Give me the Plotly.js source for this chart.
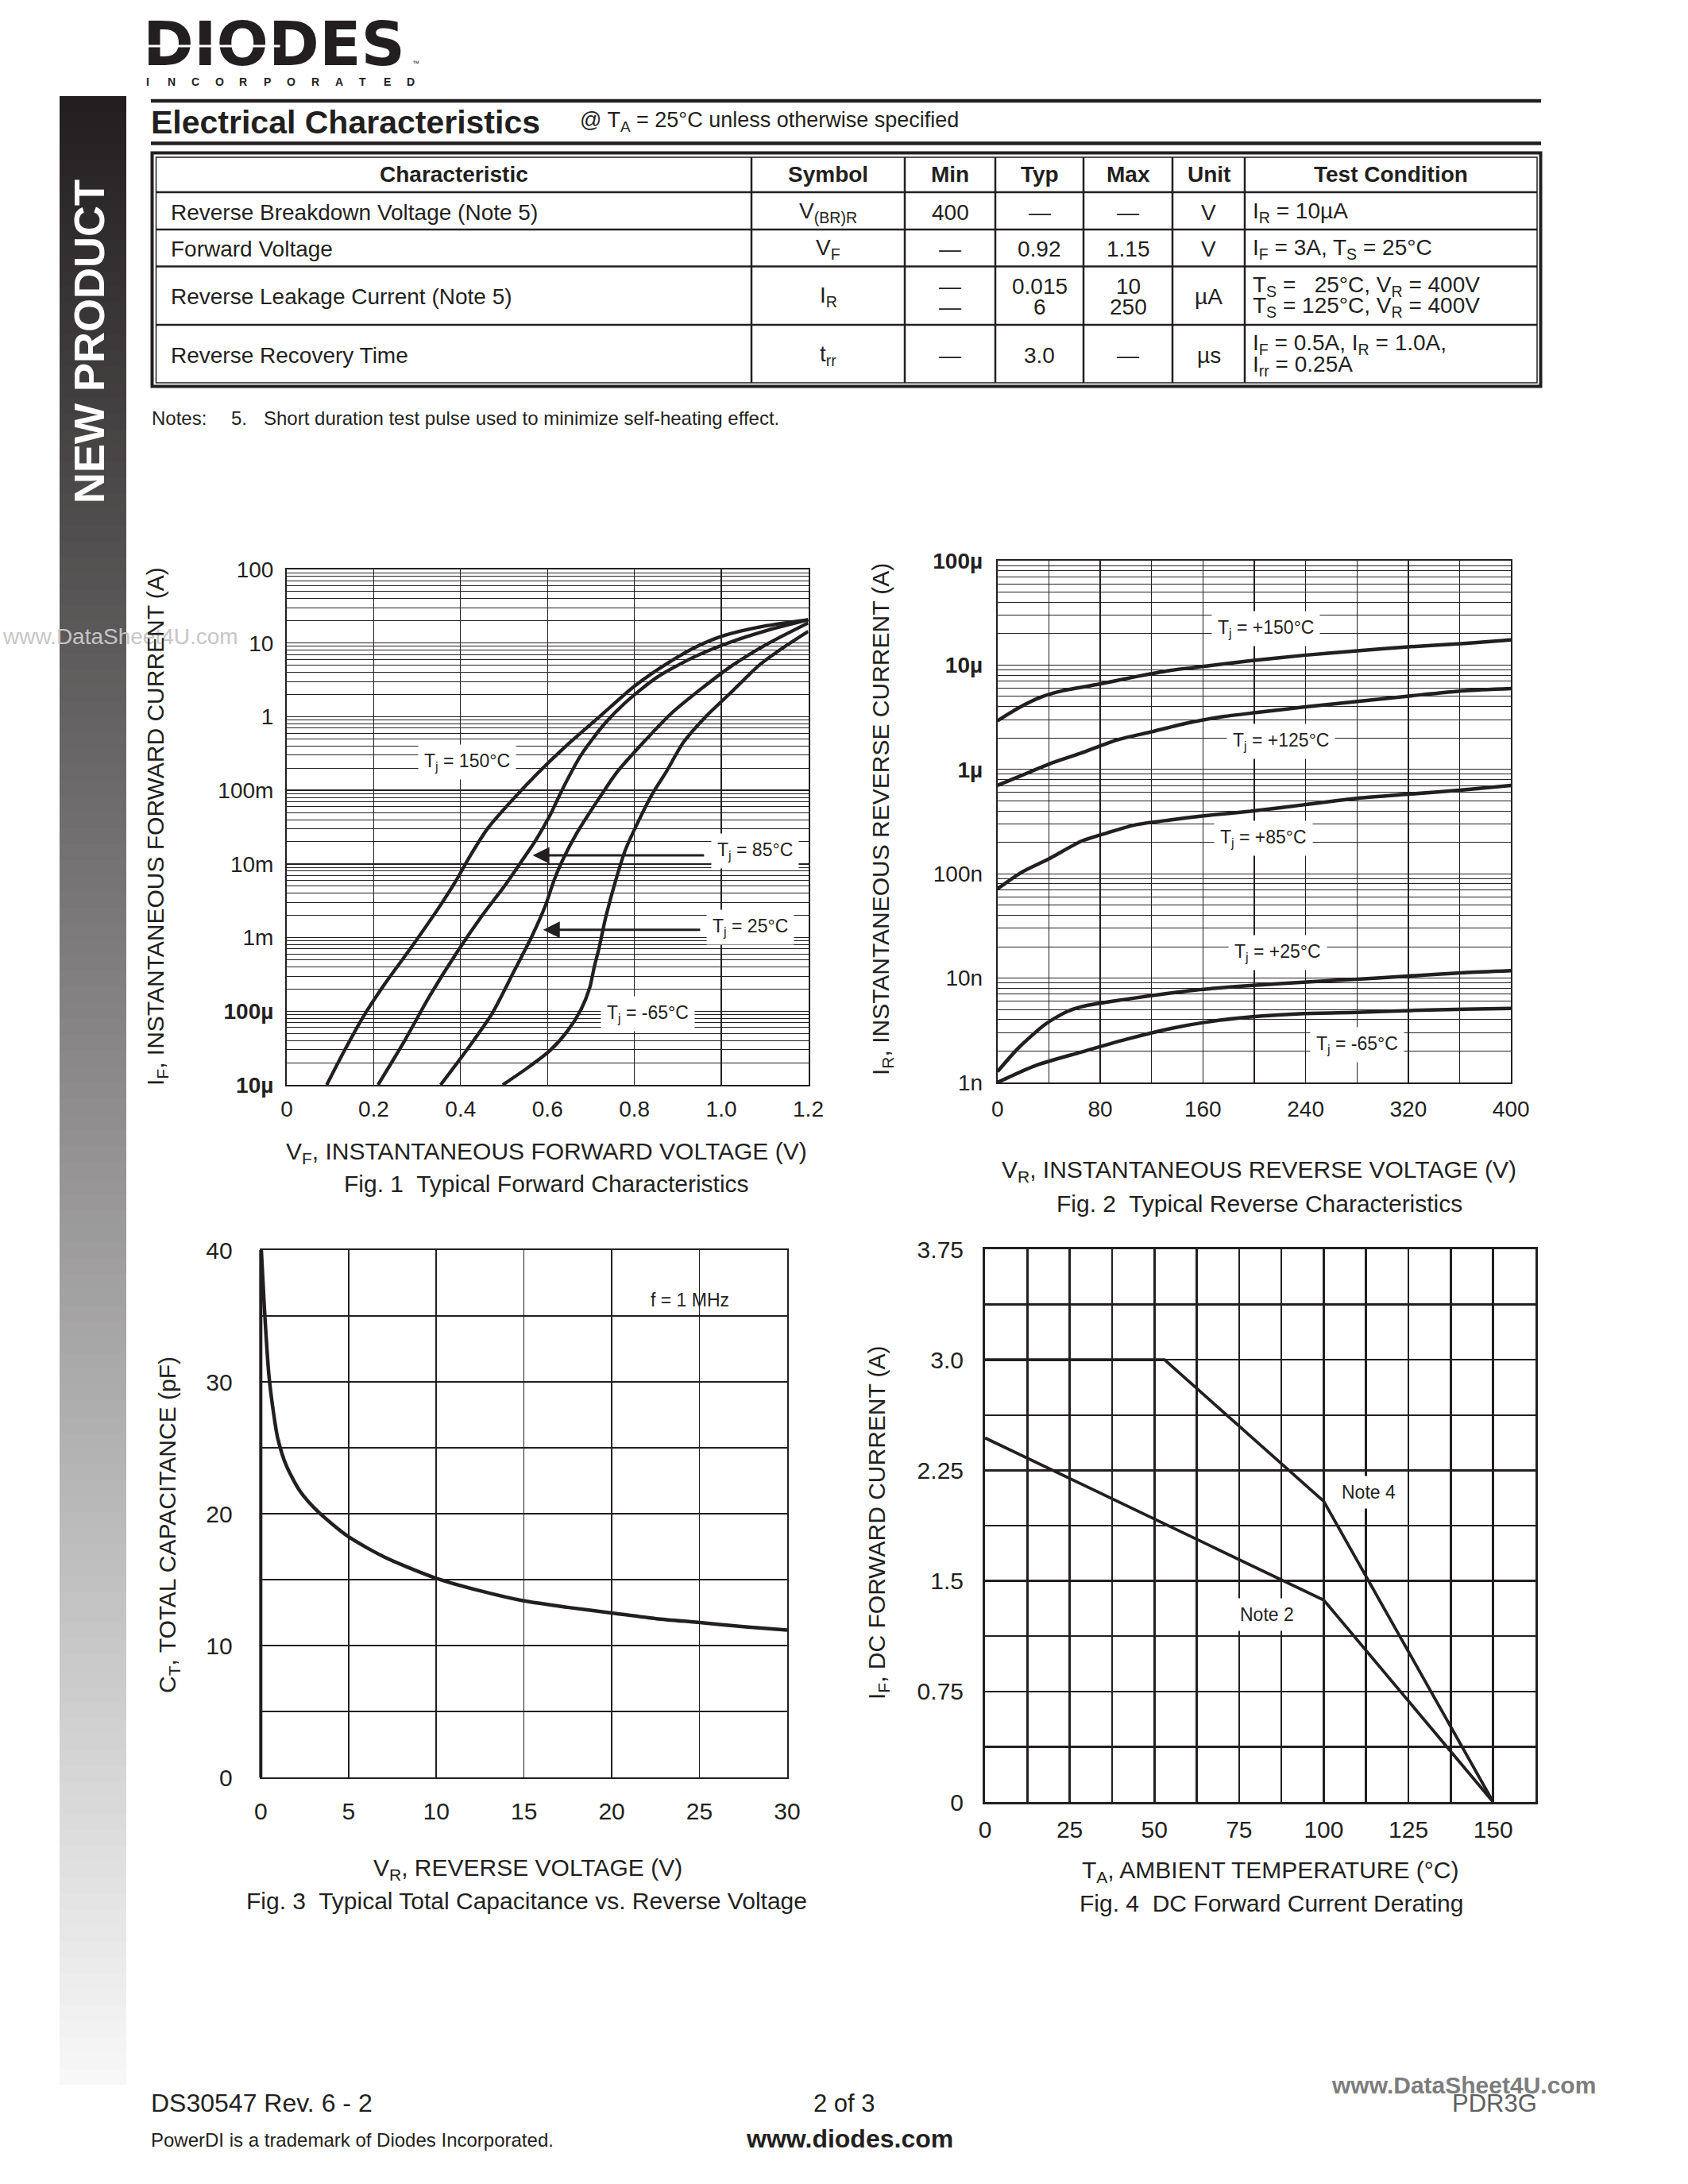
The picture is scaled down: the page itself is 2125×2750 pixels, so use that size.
<!DOCTYPE html>
<html>
<head>
<meta charset="utf-8">
<script src="https://cdn.plot.ly/plotly-3.0.1.min.js"></script>
<style>
html,body{margin:0;padding:0;background:#ffffff;}
#page{width:2125px;height:2750px;}
</style>
</head>
<body>
<div id="page"></div>
<script>
// ================= DATA =================
// Electrical characteristics table
const tableHeaders = ['Characteristic','Symbol','Min','Typ','Max','Unit','Test Condition'];
const characteristics = ['Reverse Breakdown Voltage (Note 5)','Forward Voltage','Reverse Leakage Current (Note 5)','Reverse Recovery Time'];
const symbols = ['V<sub>(BR)R</sub>','V<sub>F</sub>','I<sub>R</sub>','t<sub>rr</sub>'];
const minValues = ['400','—',['—','—'],'—'];
const typValues = ['—','0.92',['0.015','6'],'3.0'];
const maxValues = ['—','1.15',['10','250'],'—'];
const units = ['V','V','µA','µs'];
const testConditions = [
  'I<sub>R</sub> = 10µA',
  'I<sub>F</sub> = 3A, T<sub>S</sub> = 25°C',
  ['T<sub>S</sub> =   25°C, V<sub>R</sub> = 400V','T<sub>S</sub> = 125°C, V<sub>R</sub> = 400V'],
  ['I<sub>F</sub> = 0.5A, I<sub>R</sub> = 1.0A,','I<sub>rr</sub> = 0.25A']
];

// Fig. 1 Typical Forward Characteristics (VF in V, IF in A)
const fig1Vf150 = [0.092,0.133,0.174,0.226,0.287,0.349,0.390,0.421,0.462,0.513,0.574,0.646,0.718,0.800,0.882,0.944,1.005,1.087,1.200];
const fig1If150 = [1e-5,2.94e-5,8.05e-5,2.37e-4,7.43e-4,2.50e-3,6.0e-3,0.0126,0.0302,0.0676,0.163,0.417,0.98,2.6,5.6,9.0,12.6,16.5,20.7];
const fig1Vf85 = [0.210,0.267,0.328,0.390,0.451,0.503,0.544,0.574,0.605,0.636,0.677,0.728,0.779,0.851,0.933,1.015,1.108,1.200];
const fig1If85 = [1e-5,3.6e-5,1.58e-4,6.1e-4,2.04e-3,5.2e-3,0.0117,0.0215,0.045,0.108,0.30,0.76,1.55,3.4,6.3,10.0,15.0,20.7];
const fig1Vf25 = [0.354,0.410,0.472,0.523,0.564,0.595,0.615,0.636,0.667,0.718,0.759,0.821,0.882,0.954,1.026,1.108,1.200];
const fig1If25 = [1e-5,2.75e-5,9.2e-5,3.5e-4,1.04e-3,2.7e-3,6.0e-3,0.0117,0.026,0.077,0.174,0.45,1.07,2.4,5.0,9.9,18.8];
const fig1VfM65 = [0.497,0.554,0.605,0.646,0.677,0.697,0.708,0.718,0.733,0.754,0.779,0.810,0.841,0.872,0.913,0.964,1.026,1.087,1.149,1.200];
const fig1IfM65 = [1e-5,1.7e-5,2.9e-5,5.4e-5,1.05e-4,2.07e-4,4.1e-4,6.95e-4,1.78e-3,5.2e-3,0.0154,0.039,0.089,0.174,0.45,1.0,2.24,5.0,9.2,14.4];
const fig1XTickVals = [0,0.2,0.4,0.6,0.8,1.0,1.2];
const fig1XTickText = ['0','0.2','0.4','0.6','0.8','1.0','1.2'];
const fig1YTickVals = [1e-5,1e-4,1e-3,1e-2,1e-1,1,10,100];
const fig1YTickText = ['<b>10µ</b>','<b>100µ</b>','1m','10m','100m','1','10','100'];

// Fig. 2 Typical Reverse Characteristics (VR in V, IR in A)
const fig2Vr150 = [0,16.3,33.7,51.0,78.8,106.6,134.4,162.2,196.9,238.5,280.2,321.9,363.5,400];
const fig2Ir150 = [2.92e-6,3.88e-6,4.92e-6,5.68e-6,6.55e-6,7.69e-6,8.87e-6,9.75e-6,1.10e-5,1.24e-5,1.37e-5,1.50e-5,1.61e-5,1.74e-5];
const fig2Vr125 = [0,16.3,40.6,64.9,92.7,120.5,148.3,176.0,203.8,238.5,280.2,321.9,363.5,400];
const fig2Ir125 = [7.03e-7,8.5e-7,1.13e-6,1.43e-6,1.91e-6,2.30e-6,2.79e-6,3.21e-6,3.53e-6,3.96e-6,4.48e-6,5.07e-6,5.68e-6,5.96e-6];
const fig2Vr85 = [0,19.8,40.6,64.9,85.8,106.6,134.4,162.2,196.9,238.5,280.2,321.9,363.5,400];
const fig2Ir85 = [7.18e-8,1.05e-7,1.40e-7,2.04e-7,2.47e-7,2.93e-7,3.28e-7,3.61e-7,3.97e-7,4.58e-7,5.28e-7,5.81e-7,6.38e-7,7.03e-7];
const fig2Vr25 = [0,16.3,37.2,54.5,68.4,92.7,120.5,155.2,196.9,238.5,280.2,321.9,363.5,400];
const fig2Ir25 = [1.27e-9,2.14e-9,3.61e-9,4.80e-9,5.42e-9,6.08e-9,6.81e-9,7.71e-9,8.48e-9,9.14e-9,9.77e-9,1.05e-8,1.13e-8,1.18e-8];
const fig2VrM65 = [0,30.2,64.9,99.7,134.4,162.2,196.9,238.5,280.2,321.9,363.5,400];
const fig2IrM65 = [1.0e-9,1.46e-9,1.95e-9,2.58e-9,3.28e-9,3.78e-9,4.24e-9,4.57e-9,4.70e-9,4.89e-9,5.03e-9,5.12e-9];
const fig2XTickVals = [0,80,160,240,320,400];
const fig2YTickVals = [1e-9,1e-8,1e-7,1e-6,1e-5,1e-4];
const fig2YTickText = ['1n','10n','100n','<b>1µ</b>','<b>10µ</b>','<b>100µ</b>'];

// Fig. 3 Typical Total Capacitance vs. Reverse Voltage (VR in V, CT in pF)
const fig3Vr = [0.03,0.2,0.46,0.71,0.97,1.47,2.24,3.25,4.98,7.06,10.0,12.65,14.94,17.48,20.07,22.55,24.9,27.64,30];
const fig3Ct = [40,35.7,30.55,27.8,25.7,23.6,21.7,20.17,18.27,16.7,15.1,14.1,13.4,12.9,12.46,12.04,11.76,11.42,11.18];
const fig3XTickVals = [0,5,10,15,20,25,30];
const fig3YTickVals = [0,10,20,30,40];

// Fig. 4 DC Forward Current Derating (TA in °C, IF in A)
const fig4TaNote4 = [0,53,100,150];
const fig4IfNote4 = [3.0,3.0,2.04,0];
const fig4TaNote2 = [0,100,150];
const fig4IfNote2 = [2.47,1.37,0];
const fig4XTickVals = [0,25,50,75,100,125,150];
const fig4YTickVals = [0,0.75,1.5,2.25,3.0,3.75];
const fig4YTickText = ['0','0.75','1.5','2.25','3.0','3.75'];

// ================= LAYOUT HELPERS =================
const W = 2125, H = 2750;
const INK = '#231f20';
const FONT = '"Liberation Sans", Arial, Helvetica, sans-serif';
const P = px => px / W;
const Q = py => 1 - py / H;
const shapes = [];
const annotations = [];

function line(x0, y0, x1, y1, w, c) {
  shapes.push({type:'line', xref:'paper', yref:'paper', x0:P(x0), y0:Q(y0), x1:P(x1), y1:Q(y1),
    line:{color:c || INK, width:w}});
}
function rectOutline(x0, y0, x1, y1, w) {
  shapes.push({type:'rect', xref:'paper', yref:'paper', x0:P(x0), y0:Q(y0), x1:P(x1), y1:Q(y1),
    line:{color:INK, width:w}, fillcolor:'rgba(0,0,0,0)'});
}
function text(t, x, y, size, o) {
  o = o || {};
  annotations.push({xref:'paper', yref:'paper', x:P(x), y:Q(y), text:t, showarrow:false,
    xanchor:o.xa || 'center', yanchor:'middle', textangle:o.angle || 0,
    font:{family:o.family || FONT, size:size, color:o.color || INK, weight:o.weight || 'normal'},
    bgcolor:o.bg || 'rgba(0,0,0,0)', borderpad:o.pad || 0,
    width:o.width, height:o.height});
}
function plotLabel(t, x, y, xa, ya, size, bg) {
  annotations.push({xref:xa, yref:ya, x:x, y:y, text:t, showarrow:false,
    font:{family:FONT, size:size, color:INK},
    bgcolor:bg ? '#ffffff' : 'rgba(0,0,0,0)', borderpad:bg ? 7 : 0});
}
function plotArrow(x, y, ax, ay, xa, ya) {
  annotations.push({xref:xa, yref:ya, axref:xa, ayref:ya, x:x, y:y, ax:ax, ay:ay, text:'',
    showarrow:true, arrowhead:2, arrowsize:1.4, arrowwidth:3, arrowcolor:INK, standoff:0});
}

// ---- side bar with gradient
const sbX0 = 75, sbX1 = 159, sbY0 = 121, sbY1 = 2625, sbN = 125;
for (let i = 0; i < sbN; i++) {
  const t = i / (sbN - 1);
  const c = [35 + (247 - 35) * t, 31 + (247 - 31) * t, 32 + (247 - 32) * t].map(Math.round);
  const y0 = sbY0 + (sbY1 - sbY0) * i / sbN;
  const y1 = Math.min(sbY1, sbY0 + (sbY1 - sbY0) * (i + 1) / sbN + 1);
  shapes.push({type:'rect', xref:'paper', yref:'paper', x0:P(sbX0), x1:P(sbX1), y0:Q(y0), y1:Q(y1),
    fillcolor:'rgb(' + c.join(',') + ')', line:{width:0}, layer:'below'});
}

// ---- watermark (upper left)
text('www.DataSheet4U.com', 2, 801, 28, {xa:'left', color:'#c6c6c6'});
text('<b>NEW PRODUCT</b>', 112, 430, 54, {angle:-90, color:'#ffffff'});

// ---- logo
text('<b>DIODES</b>', 345, 55, 77, {family:'"DejaVu Sans", sans-serif'});
text(' ', 268, 58, 1, {bg:'#ffffff', width:168, height:2});
text('™', 523, 80, 9);
const logoSub = 'INCORPORATED';
for (let k = 0; k < logoSub.length; k++) text('<b>' + logoSub[k] + '</b>', 186 + k * 30.1, 103, 14);

// ---- heading
line(190, 127, 1940, 127, 4.5);
line(190, 180.5, 1940, 180.5, 4.5);
text('<b>Electrical Characteristics</b>', 189, 154, 41, {xa:'left'});
text('@ T<sub>A</sub> = 25°C unless otherwise specified', 729, 153, 27, {xa:'left'});

// ---- table frame
rectOutline(191.5, 192.5, 1939.5, 486.5, 4);
rectOutline(196.5, 198, 1935, 482, 1.5);
const colEdges = [196.5, 946, 1139, 1253, 1364, 1476, 1567, 1935];
const rowLines = [242, 289, 335.5, 409];
rowLines.forEach(y => line(196.5, y, 1935, y, 2.5));
colEdges.slice(1, -1).forEach(x => line(x, 198, x, 482, 2.5));
const rowCenters = [267, 313, 373.5, 447];
const lineGap = 13.3;
tableHeaders.forEach((h, i) => text('<b>' + h + '</b>', (colEdges[i] + colEdges[i + 1]) / 2, 220, 28));
const tableColumns = [characteristics, symbols, minValues, typValues, maxValues, units, testConditions];
tableColumns.forEach((col, ci) => col.forEach((cell, ri) => {
  const lines = Array.isArray(cell) ? cell : [cell];
  const left = (ci === 0 || ci === 6);
  const x = ci === 0 ? 214 : (ci === 6 ? 1576 : (colEdges[ci] + colEdges[ci + 1]) / 2);
  lines.forEach((ln, li) => {
    const y = rowCenters[ri] + (lines.length === 1 ? 0 : (li === 0 ? -lineGap : lineGap));
    text(ln, x, y, 28, {xa:left ? 'left' : 'center'});
  });
}));
text('Notes:', 190, 526.5, 24, {xa:'left'});
text('5.', 290, 526.5, 24, {xa:'left'});
text('Short duration test pulse used to minimize self-heating effect.', 331, 526.5, 24, {xa:'left'});

// ---- chart titles / captions
const TT = 30;
text('I<sub>F</sub>, INSTANTANEOUS FORWARD CURRENT (A)', 197, 1041, TT, {angle:-90});
text('V<sub>F</sub>, INSTANTANEOUS FORWARD VOLTAGE (V)', 688, 1451, TT);
text('Fig. 1  Typical Forward Characteristics', 688, 1490, TT);
text('I<sub>R</sub>, INSTANTANEOUS REVERSE CURRENT (A)', 1111, 1032, TT, {angle:-90});
text('V<sub>R</sub>, INSTANTANEOUS REVERSE VOLTAGE (V)', 1585, 1474, TT);
text('Fig. 2  Typical Reverse Characteristics', 1585, 1515, TT);
text('C<sub>T</sub>, TOTAL CAPACITANCE (pF)', 212, 1920, TT, {angle:-90});
text('V<sub>R</sub>, REVERSE VOLTAGE (V)', 664, 2353, TT);
text('Fig. 3  Typical Total Capacitance vs. Reverse Voltage', 663, 2393, TT);
text('I<sub>F</sub>, DC FORWARD CURRENT (A)', 1105, 1917, TT, {angle:-90});
text('T<sub>A</sub>, AMBIENT TEMPERATURE (°C)', 1599, 2356, TT);
text('Fig. 4  DC Forward Current Derating', 1601, 2396, TT);

// ---- in-plot labels (log axes use log10 coordinates)
const LS = 23;
plotLabel('T<sub>j</sub> = 150°C', 0.415, -0.621, 'x', 'y', LS, true);
plotLabel('T<sub>j</sub> = 85°C', 1.077, -1.823, 'x', 'y', LS, true);
plotLabel('T<sub>j</sub> = 25°C', 1.067, -2.864, 'x', 'y', LS, true);
plotLabel('T<sub>j</sub> = -65°C', 0.831, -4.033, 'x', 'y', LS, true);
plotArrow(0.566, -1.883, 0.963, -1.883, 'x', 'y');
plotArrow(0.590, -2.893, 0.954, -2.893, 'x', 'y');
plotLabel('T<sub>j</sub> = +150°C', 209, -4.648, 'x2', 'y2', LS, true);
plotLabel('T<sub>j</sub> = +125°C', 221, -5.733, 'x2', 'y2', LS, true);
plotLabel('T<sub>j</sub> = +85°C', 207, -6.657, 'x2', 'y2', LS, true);
plotLabel('T<sub>j</sub> = +25°C', 218, -7.754, 'x2', 'y2', LS, true);
plotLabel('T<sub>j</sub> = -65°C', 280, -8.637, 'x2', 'y2', LS, true);
plotLabel('f = 1 MHz', 24.46, 36.19, 'x3', 'y3', LS, false);
plotLabel('Note 4', 113.2, 2.10, 'x4', 'y4', LS, true);
plotLabel('Note 2', 83.3, 1.27, 'x4', 'y4', LS, true);

// thick left edge of Fig. 3
shapes.push({type:'line', xref:'x3 domain', yref:'y3 domain', x0:0, x1:0, y0:0, y1:1, line:{color:INK, width:4}});

// ---- footer
text('DS30547 Rev. 6 - 2', 189, 2648, 32, {xa:'left'});
text('2 of 3', 1063, 2648, 31);
text('PowerDI is a trademark of Diodes Incorporated.', 189, 2694, 24, {xa:'left'});
text('<b>www.diodes.com</b>', 1069, 2693, 32);
text('PDR3G', 1881, 2648, 31, {color:'#5f5f5f'});
text('<b>www.DataSheet4U.com</b>', 1842, 2625, 30, {color:'#7d7d7d'});

// ================= AXES =================
const tf28 = {family:FONT, size:28, color:INK};
const tf30 = {family:FONT, size:30, color:INK};
function frameAxis(extra) {
  return Object.assign({showline:true, mirror:true, linecolor:INK, zeroline:false, ticks:'',
    autorange:false, fixedrange:true, gridcolor:INK}, extra);
}

const layout = {
  width:W, height:H, margin:{l:0, r:0, t:0, b:0},
  paper_bgcolor:'#ffffff', plot_bgcolor:'#ffffff', showlegend:false,
  font:{family:FONT, color:INK},
  xaxis: frameAxis({domain:[P(361), P(1017.5)], anchor:'y', range:[0, 1.2], linewidth:2,
    tickmode:'array', tickvals:fig1XTickVals, ticktext:fig1XTickText, showgrid:true, gridwidth:1.3,
    ticklabelstandoff:4, tickfont:tf28}),
  yaxis: frameAxis({domain:[Q(1366), Q(717)], anchor:'x', type:'log', range:[-5, 2], linewidth:2,
    tickmode:'array', tickvals:fig1YTickVals, ticktext:fig1YTickText, showgrid:true, gridwidth:1.3,
    minor:{dtick:'D1', showgrid:true, gridcolor:INK, gridwidth:1, ticks:''},
    ticklabelstandoff:9, tickfont:tf28}),
  xaxis2: frameAxis({domain:[P(1255.7), P(1902.2)], anchor:'y2', range:[0, 400], linewidth:2,
    tickmode:'array', tickvals:fig2XTickVals, showgrid:true, gridwidth:1.3,
    minor:{dtick:40, showgrid:true, gridcolor:INK, gridwidth:1.3, ticks:''},
    ticklabelstandoff:7, tickfont:tf28}),
  yaxis2: frameAxis({domain:[Q(1363), Q(706)], anchor:'x2', type:'log', range:[-9, -4], linewidth:2,
    tickmode:'array', tickvals:fig2YTickVals, ticktext:fig2YTickText, showgrid:true, gridwidth:1.3,
    minor:{dtick:'D1', showgrid:true, gridcolor:INK, gridwidth:1, ticks:''},
    ticklabelstandoff:11, tickfont:tf28}),
  xaxis3: frameAxis({domain:[P(328.3), P(991)], anchor:'y3', range:[0, 30], linewidth:1.6,
    tickmode:'array', tickvals:fig3XTickVals, showgrid:true, gridwidth:1.5,
    ticklabelstandoff:15, tickfont:tf30}),
  yaxis3: frameAxis({domain:[Q(2238), Q(1574)], anchor:'x3', range:[0, 40], linewidth:1.6,
    tickmode:'array', tickvals:fig3YTickVals, showgrid:true, gridwidth:1.5,
    minor:{dtick:5, showgrid:true, gridcolor:INK, gridwidth:1.5, ticks:''},
    ticklabelstandoff:28, tickfont:tf30}),
  xaxis4: frameAxis({domain:[P(1240), P(1933)], anchor:'y4', range:[0, 162.5], linewidth:3,
    tickmode:'array', tickvals:fig4XTickVals, showgrid:true, gridwidth:2.6,
    minor:{dtick:12.5, tick0:0, showgrid:true, gridcolor:INK, gridwidth:2.6, ticks:''},
    ticklabelstandoff:6, tickfont:tf30}),
  yaxis4: frameAxis({domain:[Q(2269), Q(1573)], anchor:'x4', range:[0, 3.75], linewidth:3,
    tickmode:'array', tickvals:fig4YTickVals, ticktext:fig4YTickText, showgrid:true, gridwidth:2.6,
    minor:{dtick:0.375, tick0:0, showgrid:true, gridcolor:INK, gridwidth:2.6, ticks:''},
    ticklabelstandoff:18, tickfont:tf30}),
  shapes: shapes,
  annotations: annotations
};

// ================= TRACES =================
function curve(x, y, xa, ya, w, shape) {
  return {type:'scatter', mode:'lines', x:x, y:y, xaxis:xa, yaxis:ya,
    line:{color:INK, width:w, shape:shape || 'spline', smoothing:0.7},
    hoverinfo:'skip', showlegend:false};
}
const traces = [
  curve(fig1Vf150, fig1If150, 'x', 'y', 4.3),
  curve(fig1Vf85, fig1If85, 'x', 'y', 4.3),
  curve(fig1Vf25, fig1If25, 'x', 'y', 4.3),
  curve(fig1VfM65, fig1IfM65, 'x', 'y', 4.3),
  curve(fig2Vr150, fig2Ir150, 'x2', 'y2', 4.5),
  curve(fig2Vr125, fig2Ir125, 'x2', 'y2', 4.5),
  curve(fig2Vr85, fig2Ir85, 'x2', 'y2', 4.5),
  curve(fig2Vr25, fig2Ir25, 'x2', 'y2', 4.5),
  curve(fig2VrM65, fig2IrM65, 'x2', 'y2', 4.5),
  curve(fig3Vr, fig3Ct, 'x3', 'y3', 4.5),
  curve(fig4TaNote4, fig4IfNote4, 'x4', 'y4', 3.8, 'linear'),
  curve(fig4TaNote2, fig4IfNote2, 'x4', 'y4', 3.8, 'linear')
];

Plotly.newPlot('page', traces, layout, {staticPlot:true, displayModeBar:false});
</script>
</body>
</html>
